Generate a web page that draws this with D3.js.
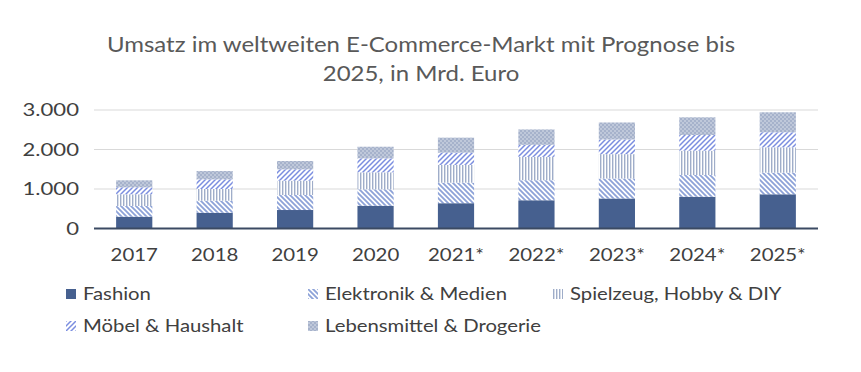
<!DOCTYPE html>
<html><head><meta charset="utf-8">
<script src="https://cdn.jsdelivr.net/npm/d3@7"></script>
<style>body{margin:0;background:#fff}svg{display:block}</style>
</head><body>
<svg id="c" width="861" height="372"></svg>
<script>
const years = ["2017","2018","2019","2020","2021*","2022*","2023*","2024*","2025*"];
const seriesNames = ["Fashion","Elektronik & Medien","Spielzeug, Hobby & DIY","Möbel & Haushalt","Lebensmittel & Drogerie"];
const fashion      = [300, 400, 468, 577, 640, 715, 760, 805, 866];
const elektronik   = [270, 304, 380, 415, 520, 508, 506, 549, 547];
const spielzeug    = [296, 296, 362, 430, 450, 590, 616, 616, 643];
const moebel       = [177, 245, 289, 354, 310, 305, 372, 397, 380];
const lebensmittel = [177, 210, 210, 294, 380, 390, 430, 448, 506];
const yTicks = [0, 1000, 2000, 3000];
const yTickLabels = ["0","1.000","2.000","3.000"];

const svg = d3.select("#c");
const defs = svg.append("defs");
const FONT = "Lato, 'Open Sans', sans-serif";

function pat(id, size, draw){
  const p = defs.append("pattern").attr("id", id).attr("patternUnits","userSpaceOnUse")
    .attr("width", size).attr("height", size);
  p.append("rect").attr("width", size).attr("height", size).attr("fill", "#fff");
  draw(p);
}
pat("pElek", 5, p => {
  p.append("path").attr("d","M-1,-1 L6,6 M-1,4 L1,6 M4,-1 L6,1").attr("stroke","#8da2d8").attr("stroke-width",1.8);
});
pat("pSpiel", 3, p => {
  p.append("rect").attr("x",0).attr("y",0).attr("width",1.4).attr("height",3).attr("fill","#9fadc9");
});
pat("pMoebel", 5, p => {
  p.append("path").attr("d","M-1,6 L6,-1 M-1,1 L1,-1 M4,6 L6,4").attr("stroke","#7b8ee0").attr("stroke-width",1.5);
});
pat("pLeb", 4, p => {
  p.select("rect").attr("fill","#a6b2cb");
  p.append("circle").attr("cx",1).attr("cy",1).attr("r",0.8).attr("fill","#dfe4ee");
  p.append("circle").attr("cx",3).attr("cy",3).attr("r",0.8).attr("fill","#dfe4ee");
});
const fills = ["#46608f","url(#pElek)","url(#pSpiel)","url(#pMoebel)","url(#pLeb)"];

const x0 = 94, x1 = 818, yBase = 228.5, yTop = 110;
const x = d3.scaleBand().domain(years).range([x0, x1]).paddingInner(0.55).paddingOuter(0.275);
const y = d3.scaleLinear().domain([0, 3000]).range([yBase, yTop]);

// title
const title = ["Umsatz im weltweiten E-Commerce-Markt mit Prognose bis", "2025, in Mrd. Euro"];
svg.append("g").selectAll("text").data(title).join("text")
  .attr("transform", (d,i) => `translate(421,${52 + i*29}) scale(1.09,1)`)
  .attr("text-anchor","middle")
  .attr("font-family", FONT).attr("font-size", 22).attr("fill","#595959")
  .text(d => d);

// grid
svg.append("g").selectAll("line").data(yTicks.slice(1)).join("line")
  .attr("x1", x0).attr("x2", x1).attr("y1", d => y(d)).attr("y2", d => y(d))
  .attr("stroke","#d9d9d9").attr("stroke-width",1);

// y labels
svg.append("g").selectAll("text").data(yTicks).join("text")
  .attr("transform", d => `translate(79,${y(d) + 6}) scale(1.3,1)`)
  .attr("text-anchor","end")
  .attr("font-family", FONT).attr("font-size", 17).attr("fill","#404040")
  .text((d,i) => yTickLabels[i]);

// stacked bars
const rows = years.map((yr,i) => ({year: yr, s0: fashion[i], s1: elektronik[i], s2: spielzeug[i], s3: moebel[i], s4: lebensmittel[i]}));
const stack = d3.stack().keys(["s0","s1","s2","s3","s4"])(rows);
svg.append("g").selectAll("g").data(stack).join("g")
  .attr("fill", (d,i) => fills[i])
  .selectAll("rect").data(d => d).join("rect")
  .attr("x", d => x(d.data.year)).attr("width", x.bandwidth())
  .attr("y", d => y(d[1])).attr("height", d => y(d[0]) - y(d[1]));

// baseline
svg.append("line").attr("x1", x0).attr("x2", x1).attr("y1", yBase).attr("y2", yBase)
  .attr("stroke","#3b4a63").attr("stroke-width",2);

// x labels
svg.append("g").selectAll("text").data(years).join("text")
  .attr("transform", d => `translate(${x(d) + x.bandwidth()/2},261) scale(1.2,1)`)
  .attr("text-anchor","middle")
  .attr("font-family", FONT).attr("font-size", 17).attr("fill","#404040")
  .text(d => d);

// legend
const legPos = [[66,294],[308,294],[553,294],[66,326],[308,326]];
const leg = svg.append("g").selectAll("g").data(seriesNames).join("g")
  .attr("transform", (d,i) => `translate(${legPos[i][0]},${legPos[i][1]})`);
leg.append("rect").attr("x",0).attr("y",-5).attr("width",10).attr("height",10)
  .attr("fill", (d,i) => fills[i]);
leg.append("text").attr("transform","translate(17,6) scale(1.23,1)")
  .attr("font-family", FONT).attr("font-size", 16.5).attr("fill","#404040")
  .text(d => d);
</script>
</body></html>
